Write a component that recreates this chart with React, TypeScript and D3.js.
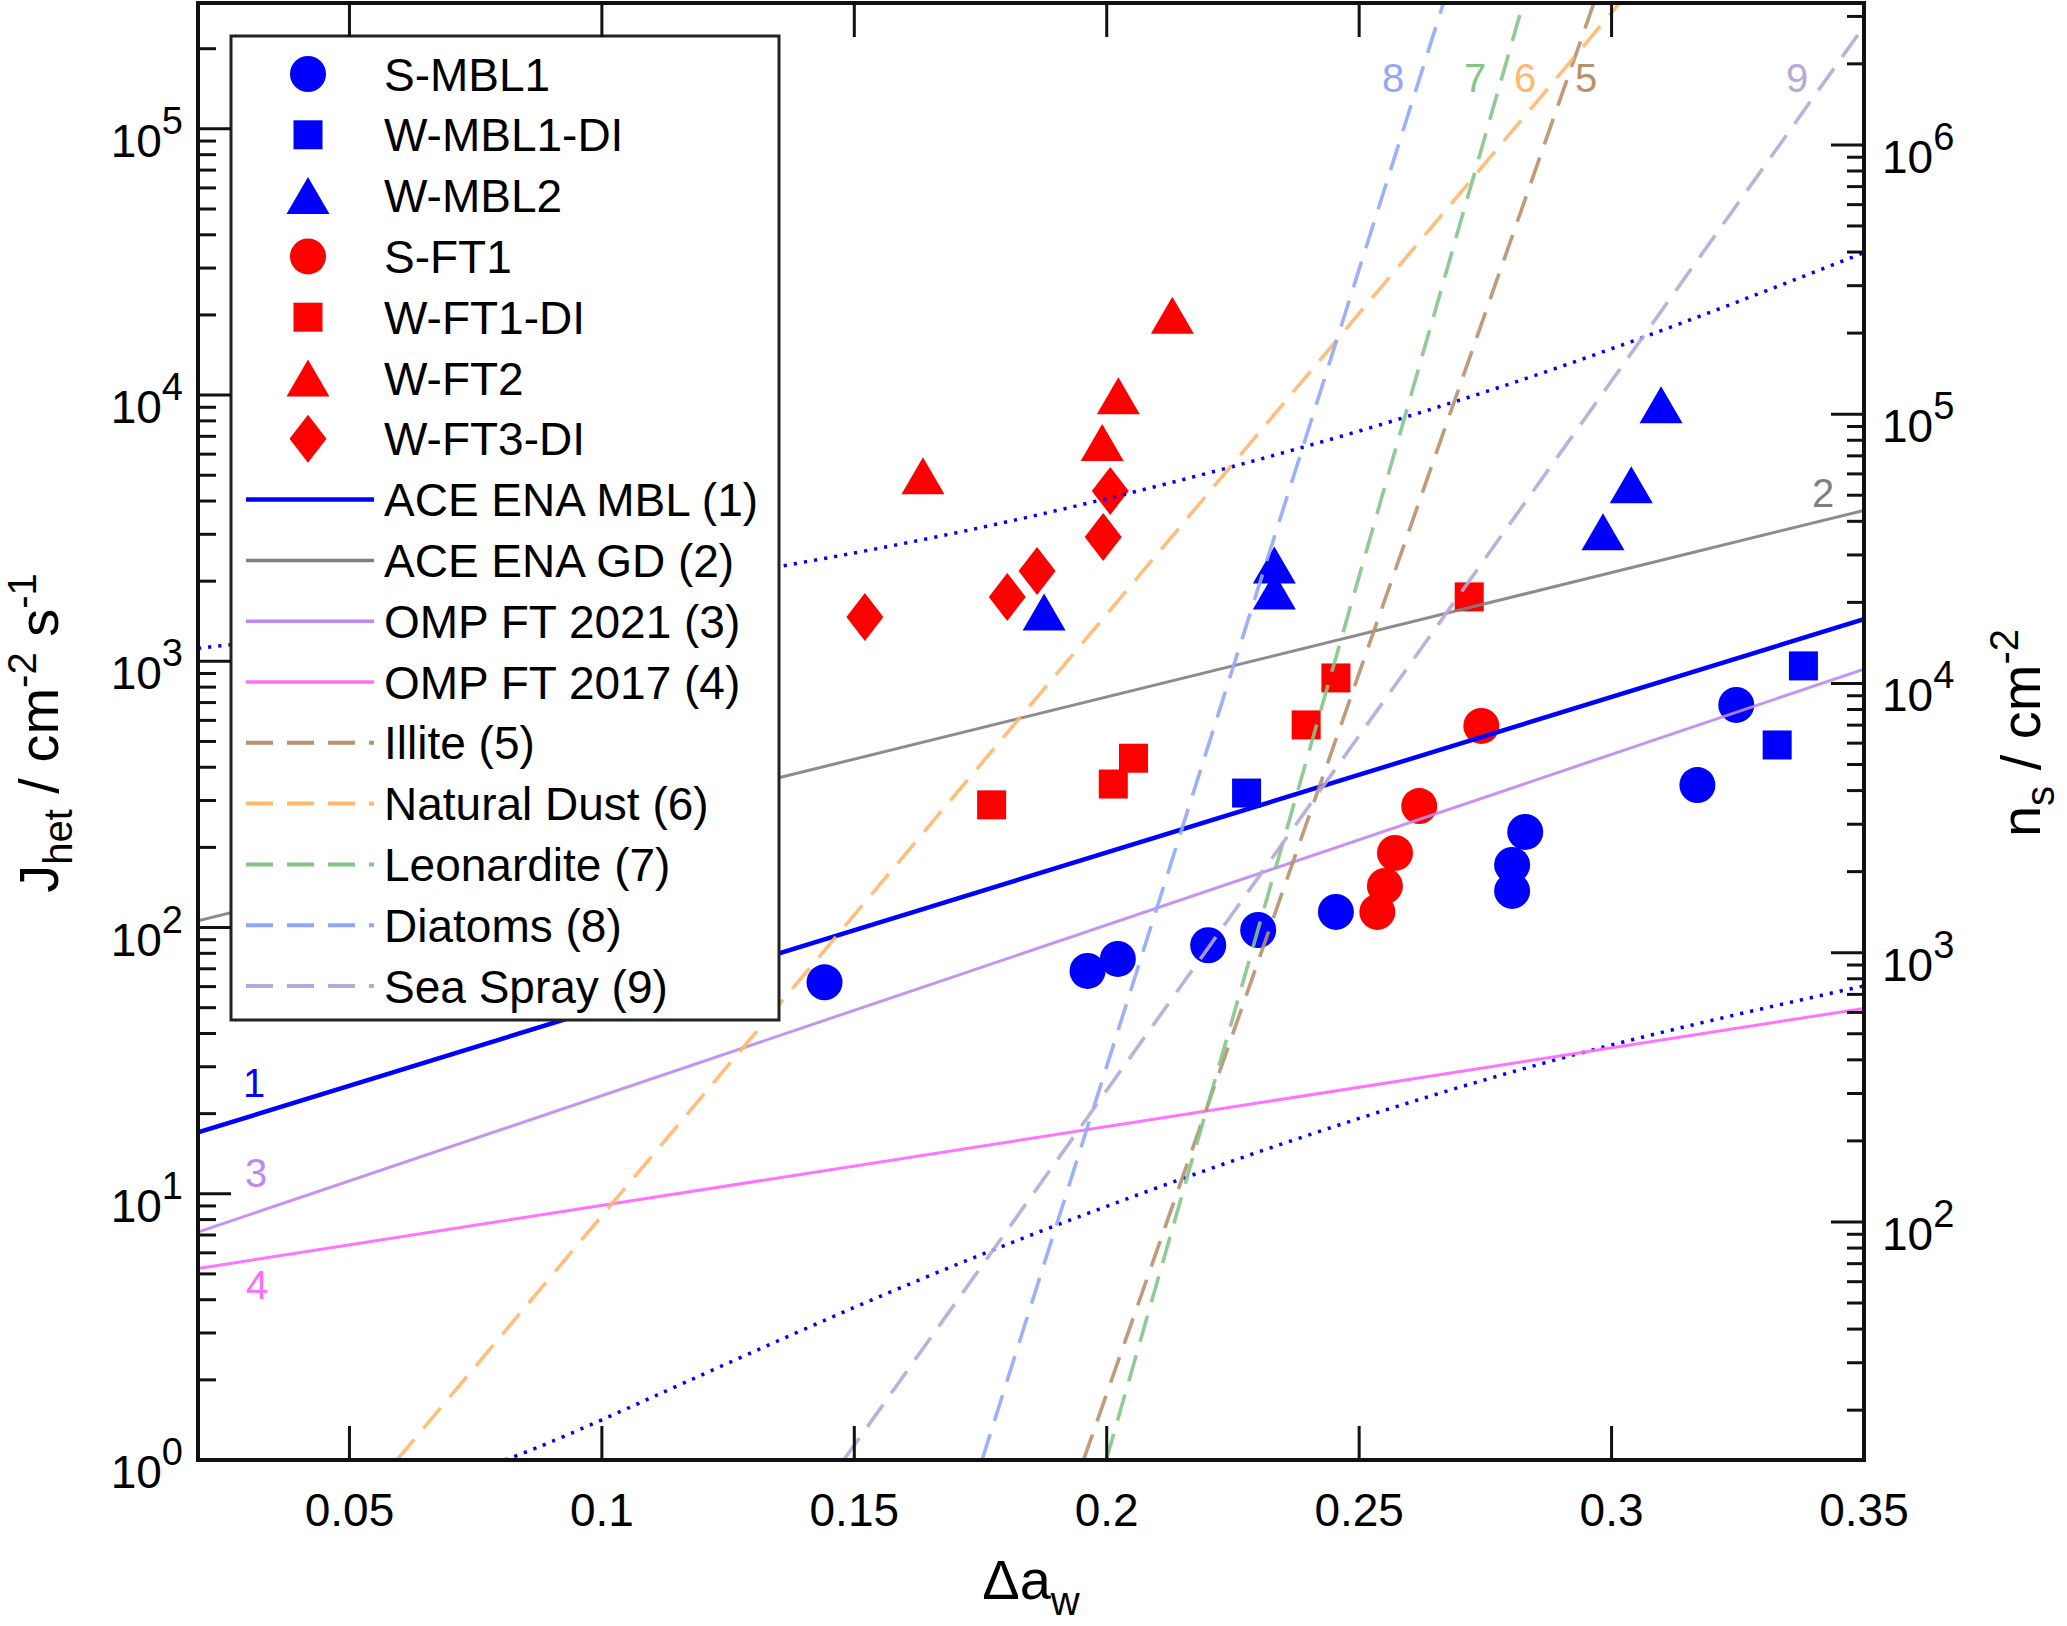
import React from 'react';
import * as d3 from 'd3';

// ---------- data ----------
const xTickValues = [0.05, 0.1, 0.15, 0.2, 0.25, 0.3, 0.35];
const xTickLabels = ['0.05', '0.1', '0.15', '0.2', '0.25', '0.3', '0.35'];
const leftExponents = [0, 1, 2, 3, 4, 5];
const rightExponents = [2, 3, 4, 5, 6];

const sMbl1X = [0.1441, 0.1962, 0.2022, 0.2201, 0.23, 0.2454, 0.2803, 0.2803, 0.2829, 0.317, 0.3247];
const sMbl1Y = [62.3, 68.7, 76.2, 85.8, 97.9, 114.5, 137.3, 171.8, 228.6, 343, 686];
const wMbl1DiX = [0.2277, 0.3328, 0.338];
const wMbl1DiY = [320, 485, 961];
const wMbl2X = [0.1876, 0.2332, 0.2332, 0.2983, 0.3039, 0.3098];
const wMbl2Y = [1533, 1839, 2302, 3070, 4600, 9190];
const sFt1X = [0.2536, 0.2551, 0.2571, 0.2619, 0.2742];
const sFt1Y = [114.5, 143.3, 190.6, 286, 572];
const wFt1DiX = [0.1772, 0.2013, 0.2053, 0.2395, 0.2454, 0.2718];
const wFt1DiY = [289, 346, 432.5, 577, 866, 1746];
const wFt2X = [0.1636, 0.1991, 0.2023, 0.213];
const wFt2Y = [4980, 6643, 9950, 19950];
const wFt3DiX = [0.1521, 0.1803, 0.1862, 0.1993, 0.2007];
const wFt3DiY = [1468, 1746, 2186, 2933, 4366];

// fitted / literature lines: [x, J]
const aceMblLine = [[0.02, 17.0], [0.35, 1439]];
const aceGdLine = [[0.02, 106], [0.35, 3690]];
const omp2021Line = [[0.02, 7.18], [0.35, 935]];
const omp2017Line = [[0.02, 5.24], [0.35, 49.7]];
const illiteLine = [[0.1954, 1], [0.2965, 2.97e5]];
const dustLine = [[0.0594, 1], [0.3016, 2.97e5]];
const leonarditeLine = [[0.1999, 1], [0.2825, 2.97e5]];
const diatomLine = [[0.1753, 1], [0.2667, 2.97e5]];
const seaSprayLine = [[0.1479, 1], [0.35, 2.43e5]];

// confidence bounds of ACE ENA MBL (dotted)
const upperBoundX = [0.02, 0.05, 0.08, 0.1, 0.15, 0.2, 0.25, 0.3, 0.35];
const upperBoundY = [1119, 1303, 1545, 1758, 2553, 4083, 7328, 14930, 34280];
const lowerBoundX = [0.0808, 0.1, 0.15, 0.2, 0.25, 0.3, 0.35];
const lowerBoundY = [1, 1.416, 3.741, 8.974, 19.19, 36.22, 60.39];

const legendNames = [
  'S-MBL1', 'W-MBL1-DI', 'W-MBL2', 'S-FT1', 'W-FT1-DI', 'W-FT2', 'W-FT3-DI',
  'ACE ENA MBL (1)', 'ACE ENA GD (2)', 'OMP FT 2021 (3)', 'OMP FT 2017 (4)',
  'Illite (5)', 'Natural Dust (6)', 'Leonardite (7)', 'Diatoms (8)', 'Sea Spray (9)',
];

// ---------- styling ----------
const BLUE = '#0000ff';
const RED = '#ff0000';
const C2 = '#7f7f7f';
const C3 = '#bf88ee';
const C4 = '#ff6cff';
const C5 = '#b8906c';
const C6 = '#ffb86e';
const C7 = '#84c488';
const C8 = '#90a8f8';
const C9 = '#b6a9d8';
const FONT = 'Arial, "Liberation Sans", Helvetica, sans-serif';

const W = 2067;
const H = 1626;
const L = 198, R = 1864, T = 3, B = 1460;

const x = d3.scaleLinear().domain([0.02, 0.35]).range([L, R]);
const yL = d3.scaleLog().domain([1, 2.97e5]).range([B, T]);
const yR = d3.scaleLog().domain([13.06, 3.365e6]).range([B, T]);

const lineGen = d3.line<number[]>().x((d) => x(d[0])).y((d) => yL(d[1]));
const curveGen = d3
  .line<number[]>()
  .x((d) => x(d[0]))
  .y((d) => yL(d[1]))
  .curve(d3.curveNatural);

const zip = (xs: number[], ys: number[]) => xs.map((v, i) => [v, ys[i]]);

type Shape = 'circle' | 'square' | 'triangle' | 'diamond';
function Marker({ shape, cx, cy, color }: { shape: Shape; cx: number; cy: number; color: string }) {
  if (shape === 'circle') return <circle cx={cx} cy={cy} r={18} fill={color} />;
  if (shape === 'square') return <rect x={cx - 14.5} y={cy - 14.5} width={29} height={29} fill={color} />;
  if (shape === 'triangle')
    return <path d={`M${cx},${cy - 18.5}L${cx + 21.5},${cy + 18.5}L${cx - 21.5},${cy + 18.5}Z`} fill={color} />;
  return <path d={`M${cx},${cy - 24}L${cx + 18.5},${cy}L${cx},${cy + 24}L${cx - 18.5},${cy}Z`} fill={color} />;
}

const scatterSeries: { xs: number[]; ys: number[]; shape: Shape; color: string }[] = [
  { xs: sMbl1X, ys: sMbl1Y, shape: 'circle', color: BLUE },
  { xs: wMbl1DiX, ys: wMbl1DiY, shape: 'square', color: BLUE },
  { xs: wMbl2X, ys: wMbl2Y, shape: 'triangle', color: BLUE },
  { xs: sFt1X, ys: sFt1Y, shape: 'circle', color: RED },
  { xs: wFt1DiX, ys: wFt1DiY, shape: 'square', color: RED },
  { xs: wFt2X, ys: wFt2Y, shape: 'triangle', color: RED },
  { xs: wFt3DiX, ys: wFt3DiY, shape: 'diamond', color: RED },
];

const DASH = '27 14';
const DOT = '3.2 7';

const lineSeries = [
  { data: aceMblLine, color: BLUE, width: 4.5, dash: undefined as string | undefined, op: 1 },
  { data: aceGdLine, color: C2, width: 3, dash: undefined, op: 0.9 },
  { data: omp2021Line, color: C3, width: 3, dash: undefined, op: 0.9 },
  { data: omp2017Line, color: C4, width: 3, dash: undefined, op: 0.95 },
  { data: illiteLine, color: C5, width: 3.6, dash: DASH, op: 0.9 },
  { data: dustLine, color: C6, width: 3.6, dash: DASH, op: 0.9 },
  { data: leonarditeLine, color: C7, width: 3.6, dash: DASH, op: 0.9 },
  { data: diatomLine, color: C8, width: 3.6, dash: DASH, op: 0.9 },
  { data: seaSprayLine, color: C9, width: 3.6, dash: DASH, op: 0.9 },
];

const legendStyles: ({ kind: 'm'; shape: Shape; color: string } | { kind: 'l'; color: string; width: number; dash?: string })[] = [
  { kind: 'm', shape: 'circle', color: BLUE },
  { kind: 'm', shape: 'square', color: BLUE },
  { kind: 'm', shape: 'triangle', color: BLUE },
  { kind: 'm', shape: 'circle', color: RED },
  { kind: 'm', shape: 'square', color: RED },
  { kind: 'm', shape: 'triangle', color: RED },
  { kind: 'm', shape: 'diamond', color: RED },
  { kind: 'l', color: BLUE, width: 4.5 },
  { kind: 'l', color: C2, width: 3.5 },
  { kind: 'l', color: C3, width: 3.5 },
  { kind: 'l', color: C4, width: 3.5 },
  { kind: 'l', color: C5, width: 4, dash: DASH },
  { kind: 'l', color: C6, width: 4, dash: DASH },
  { kind: 'l', color: C7, width: 4, dash: DASH },
  { kind: 'l', color: C8, width: 4, dash: DASH },
  { kind: 'l', color: C9, width: 4, dash: DASH },
];

export default function App() {
  const leftMinor: number[] = [];
  leftExponents.forEach((e) => {
    for (let m = 2; m <= 9; m++) {
      const v = m * Math.pow(10, e);
      if (v <= 2.97e5) leftMinor.push(v);
    }
  });
  const rightMinor: number[] = [];
  [1, 2, 3, 4, 5, 6].forEach((e) => {
    for (let m = 2; m <= 9; m++) {
      const v = m * Math.pow(10, e);
      if (v >= 13.06 && v <= 3.365e6) rightMinor.push(v);
    }
  });

  const legTop = 74;
  const legStep = 60.8;

  return (
    <svg
      width={W}
      height={H}
      viewBox={`0 0 ${W} ${H}`}
      style={{ position: 'absolute', left: 0, top: 0, background: '#fff' }}
      fontFamily={FONT}
    >
      <rect x={0} y={0} width={W} height={H} fill="#fff" />
      <defs>
        <clipPath id="plotClip">
          <rect x={L} y={T} width={R - L} height={B - T} />
        </clipPath>
      </defs>

      {/* markers */}
      <g clipPath="url(#plotClip)">
        {scatterSeries.map((s, si) =>
          s.xs.map((xv, i) => (
            <Marker key={`${si}-${i}`} shape={s.shape} cx={x(xv)} cy={yL(s.ys[i])} color={s.color} />
          ))
        )}
      </g>

      {/* lines */}
      <g clipPath="url(#plotClip)" fill="none">
        <path d={curveGen(zip(upperBoundX, upperBoundY)) || ''} stroke={BLUE} strokeWidth={3.5} strokeDasharray={DOT} />
        <path d={curveGen(zip(lowerBoundX, lowerBoundY)) || ''} stroke={BLUE} strokeWidth={3.5} strokeDasharray={DOT} />
        {lineSeries.map((s, i) => (
          <path
            key={i}
            d={lineGen(s.data) || ''}
            stroke={s.color}
            strokeWidth={s.width}
            strokeDasharray={s.dash}
            strokeOpacity={s.op}
          />
        ))}
      </g>

      {/* line labels */}
      <g textAnchor="middle" fontSize={40}>
        <text x={1393} y={78} dy="0.35em" fill={C8}>8</text>
        <text x={1475} y={78} dy="0.35em" fill={C7}>7</text>
        <text x={1525} y={78} dy="0.35em" fill={C6}>6</text>
        <text x={1586} y={78} dy="0.35em" fill={C5}>5</text>
        <text x={1797} y={78} dy="0.35em" fill={C9}>9</text>
        <text x={1823} y={493} dy="0.35em" fill={C2}>2</text>
        <text x={254} y={1083} dy="0.35em" fill={BLUE}>1</text>
        <text x={256} y={1173} dy="0.35em" fill={C3}>3</text>
        <text x={257} y={1285} dy="0.35em" fill={C4}>4</text>
      </g>

      {/* legend */}
      <g>
        <rect x={231} y={36} width={548} height={984} fill="#fff" stroke="#222" strokeWidth={3} />
        {legendNames.map((name, i) => {
          const cy = legTop + i * legStep;
          const st = legendStyles[i];
          return (
            <g key={name}>
              {st.kind === 'm' ? (
                <Marker shape={st.shape} cx={308} cy={cy} color={st.color} />
              ) : (
                <line x1={246} x2={374} y1={cy} y2={cy} stroke={st.color} strokeWidth={st.width} strokeDasharray={st.dash} />
              )}
              <text x={384} y={cy} dy="0.36em" fontSize={46} fill="#000">
                {name}
              </text>
            </g>
          );
        })}
      </g>

      {/* axes frame and ticks */}
      <g stroke="#111" fill="none">
        {xTickValues.map((v) => (
          <g key={v}>
            <line x1={x(v)} x2={x(v)} y1={B} y2={B - 34} strokeWidth={3} />
            <line x1={x(v)} x2={x(v)} y1={T} y2={T + 34} strokeWidth={3} />
          </g>
        ))}
        {leftExponents.map((e) => (
          <line key={e} x1={L} x2={L + 33} y1={yL(Math.pow(10, e))} y2={yL(Math.pow(10, e))} strokeWidth={3} />
        ))}
        {leftMinor.map((v) => (
          <line key={v} x1={L} x2={L + 18} y1={yL(v)} y2={yL(v)} strokeWidth={3} />
        ))}
        {rightExponents.map((e) => (
          <line key={e} x1={R} x2={R - 33} y1={yR(Math.pow(10, e))} y2={yR(Math.pow(10, e))} strokeWidth={3} />
        ))}
        {rightMinor.map((v) => (
          <line key={v} x1={R} x2={R - 17} y1={yR(v)} y2={yR(v)} strokeWidth={3} />
        ))}
        <rect x={L} y={T} width={R - L} height={B - T} strokeWidth={4} />
      </g>

      {/* tick labels */}
      <g fontSize={46} fill="#000">
        {xTickValues.map((v, i) => (
          <text key={v} x={x(v)} y={1526} textAnchor="middle">
            {xTickLabels[i]}
          </text>
        ))}
        {leftExponents.map((e) => (
          <text key={e} x={183} y={yL(Math.pow(10, e)) + 28} textAnchor="end">
            10
            <tspan fontSize={38} dy={-23}>{e}</tspan>
          </text>
        ))}
        {rightExponents.map((e) => (
          <text key={e} x={1882} y={yR(Math.pow(10, e)) + 28} textAnchor="start">
            10
            <tspan fontSize={38} dy={-23}>{e}</tspan>
          </text>
        ))}
      </g>

      {/* axis titles */}
      <g fontSize={56} fill="#000">
        <text transform="translate(58,733) rotate(-90)" textAnchor="middle">
          J<tspan fontSize={40} dy={14}>het</tspan>
          <tspan dy={-14}> / cm</tspan>
          <tspan fontSize={40} dy={-22}>-2</tspan>
          <tspan dy={22}> s</tspan>
          <tspan fontSize={40} dy={-22}>-1</tspan>
        </text>
        <text transform="translate(2040,733) rotate(-90)" textAnchor="middle">
          n<tspan fontSize={40} dy={14}>s</tspan>
          <tspan dy={-14}> / cm</tspan>
          <tspan fontSize={40} dy={-22}>-2</tspan>
        </text>
        <text x={1031} y={1599} textAnchor="middle">
          Δa<tspan fontSize={40} dy={16}>w</tspan>
        </text>
      </g>
    </svg>
  );
}
